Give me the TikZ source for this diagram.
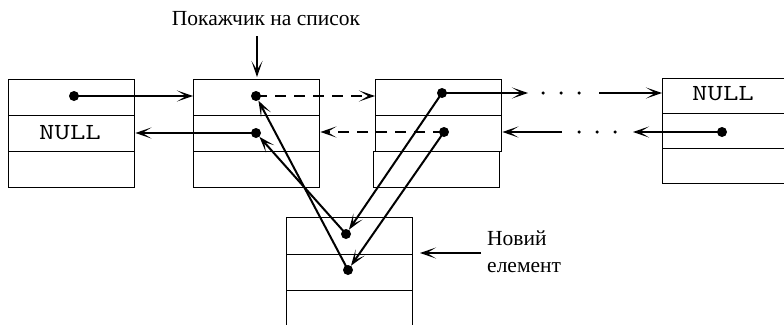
\documentclass[tikz,border=0pt]{standalone}
\usepackage{fontspec}
\setmainfont{Liberation Serif}
\usetikzlibrary{arrows.meta}
\begin{document}
\begin{tikzpicture}[x=1pt,y=-1pt,
  cell/.style={draw, line width=1.4pt, minimum width=126pt, minimum height=36pt, inner sep=0pt, anchor=north west},
  pt/.style={circle, fill, inner sep=0pt, minimum size=10pt},
  sdot/.style={circle, fill, inner sep=0pt, minimum size=3.5pt},
  arr/.style={line width=2pt, -{Stealth[length=16pt,width=11pt,inset=9pt]}},
  dsh/.style={dash pattern=on 11pt off 8pt},
  lbl/.style={font=\fontsize{21.5}{27}\selectfont, inner sep=0pt},
  nul/.style={font=\ttfamily\fontsize{23}{26}\selectfont, inner sep=0pt}
]
\clip (0,0) rectangle (784,324);
\fill[white] (0,0) rectangle (784,324);
% box 1
\node[cell] (b1r1) at (8,79) {};
\node[cell] (b1r2) at (8,115) {};
\node[cell] (b1r3) at (8,151) {};
% box 2
\node[cell] (b2r1) at (193,79) {};
\node[cell] (b2r2) at (193,115) {};
\node[cell] (b2r3) at (193,151) {};
% box 3
\node[cell] (b3r1) at (375,79) {};
\node[cell] (b3r2) at (375,115) {};
\node[cell] (b3r3) at (373,151) {};
% box 4
\node[cell, minimum height=35pt] (b4r1) at (662,78) {};
\node[cell, minimum height=35pt] (b4r2) at (662,113) {};
\node[cell, minimum height=35pt] (b4r3) at (662,148) {};
% box 5 (new element)
\node[cell, minimum height=36.5pt] (b5r1) at (286,217) {};
\node[cell, minimum height=36.5pt] (b5r2) at (286,253.5) {};
\node[cell, minimum height=36.5pt] (b5r3) at (286,290) {};
% NULL texts
\node[nul] (n1) at (70,133) {\scalebox{1.3}[1]{NULL}};
\node[nul] (n4) at (723,94) {\scalebox{1.3}[1]{NULL}};
% pointer dots
\node[pt] (d1) at (74,96) {};
\node[pt] (d2a) at (256,96) {};
\node[pt] (d2b) at (256,133) {};
\node[pt] (d3a) at (442,93) {};
\node[pt] (d3b) at (444,132) {};
\node[pt] (d4) at (722,132) {};
\node[pt] (d5a) at (346,234) {};
\node[pt] (d5b) at (348,270) {};
% ellipsis dots
\node[sdot] (e1) at (543,93) {};
\node[sdot] (e2) at (561,93) {};
\node[sdot] (e3) at (579,93) {};
\node[sdot] (e4) at (579,132) {};
\node[sdot] (e5) at (597,132) {};
\node[sdot] (e6) at (615,132) {};
\coordinate (g1) at (528,93);
\coordinate (g2) at (599,93);
\coordinate (g3) at (633,132);
\coordinate (g4) at (562,132);
% horizontal links
\draw[arr] (d1.center) -- (d1 -| b2r1.west);
\draw[arr] (d2b.center) -- (d2b -| b1r2.east);
\draw[arr, dsh] (d2a.center) -- (d2a -| b3r1.west);
\draw[arr, dsh] (d3b.center) -- (d3b -| b2r2.east);
\draw[arr] (d3a.center) -- (g1);
\draw[arr] (g2) -- (g2 -| b4r1.west);
\draw[arr] (d4.center) -- (g3);
\draw[arr] (g4) -- (g4 -| b3r2.east);
% links with the new element
\draw[arr] (d3a.center) -- (d5a);
\draw[arr] (d3b.center) -- (d5b);
\draw[arr] (d5a.center) -- (d2b);
\draw[arr] (d5b.center) -- (d2a);
% labels
\node[lbl] (lab) at (266,19) {Покажчик на список};
\coordinate (p0) at (257,36);
\coordinate (p1) at (257,77);
\draw[arr] (p0) -- (p1);
\node[lbl, align=left, anchor=north west] (nl) at (487,231) {Новий\\елемент};
\coordinate (q0) at (481,253);
\coordinate (q1) at (420,253);
\draw[arr] (q0) -- (q1);
\end{tikzpicture}
\end{document}
